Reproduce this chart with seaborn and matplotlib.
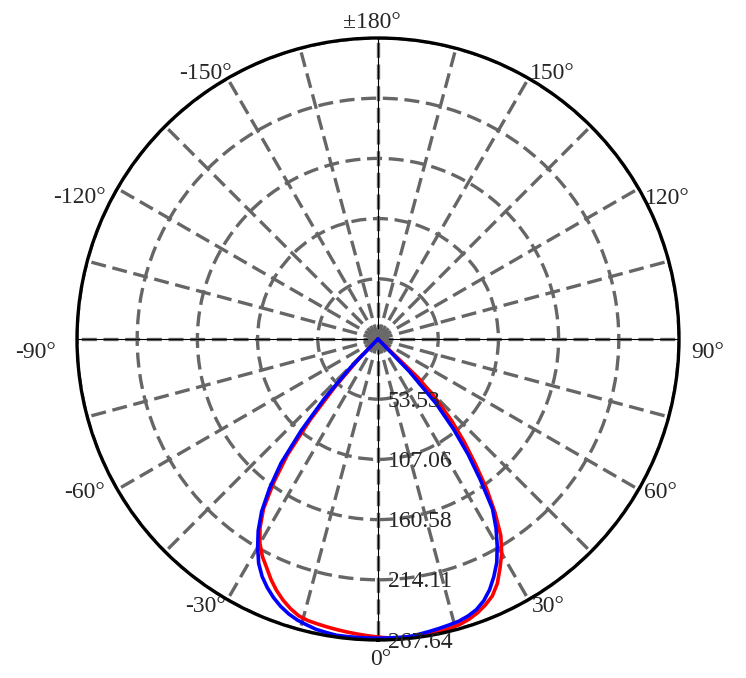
import numpy as np
import pandas as pd
import matplotlib
matplotlib.use("Agg")
import matplotlib.pyplot as plt
import seaborn as sns

# angles in degrees, 0 at bottom, positive toward the right
angles = [-47, -46, -44, -42, -40, -38, -36, -34, -32, -30, -28, -26, -24, -22, -20, -18, -16,
          -14, -12, -10, -8, -6, -4, -2, 0, 2, 4, 6, 8, 10, 12, 14, 16, 18, 20, 22, 24, 26,
          28, 30, 32, 34, 36, 38, 40, 42, 44, 46, 47]
red_vals = [0, 0, 25, 57, 94, 131, 158, 182, 198, 210, 219, 226, 234, 241, 247, 252, 256,
            258, 259, 260, 261, 262, 263, 264, 265, 266, 267, 267, 267, 266, 266, 265, 264,
            262, 259, 255, 250, 242, 231, 220, 206, 186, 164, 140, 119, 98, 75, 50, 0]
blue_vals = [0, 0, 35, 71, 106, 140, 164, 185, 201, 214, 226, 235, 242, 248, 253, 257, 260,
             262, 264, 265, 266, 266, 266, 266, 266, 266, 266, 266, 265, 264, 263, 262, 261,
             259, 256, 251, 244, 235, 225, 212, 198, 182, 155, 130, 104, 77, 40, 0, 0]

ring_vals = [53.53, 107.06, 160.58, 214.11, 267.64]
angle_labels = ["±180°", "150°", "120°", "90°", "60°", "30°", "0°",
                "-30°", "-60°", "-90°", "-120°", "-150°"]

sns.set_style("white")
plt.rcParams['font.family'] = 'serif'
plt.rcParams['font.serif'] = ['Liberation Serif', 'Times New Roman', 'DejaVu Serif']

df = pd.DataFrame({
    'theta': np.deg2rad(angles * 2),
    'r': red_vals + blue_vals,
    'series': ['red'] * len(angles) + ['blue'] * len(angles),
})

fig = plt.figure(figsize=(7.46, 6.78), dpi=100)
ax = fig.add_axes([77 / 746, 38 / 678, 602 / 746, 602 / 678], projection='polar')
ax.set_theta_zero_location('S')
ax.set_theta_direction(1)
rmax = 267.64
ax.set_ylim(0, rmax)

# grid
ax.set_thetagrids(np.arange(0, 360, 15), labels=[''] * 24)
ax.set_rgrids(ring_vals, labels=[''] * len(ring_vals))
ax.grid(True, color='#666666', linestyle=(0, (4.5, 2)), linewidth=2.4)
ax.spines['polar'].set_color('black')
ax.spines['polar'].set_linewidth(2.4)
ax.spines['polar'].set_zorder(4)
for a in [0, 90, 180, 270]:
    ax.axvline(np.deg2rad(a), color='black', lw=0.8, zorder=1)
ax.plot(0, 0, 'o', color='#6a6a6a', ms=14, zorder=2.5)

sns.lineplot(data=df, x='theta', y='r', hue='series', sort=False, estimator=None,
             palette={'red': '#ff0000', 'blue': '#0000ff'}, linewidth=2.6,
             legend=False, ax=ax, zorder=3)
ax.set_xlabel('')
ax.set_ylabel('')

# angle labels (polar position of each label centre, pixel radius)
lab_theta = [-178.9, 146.6, 115.9, 87.7, 61.5, 32.4, 0.5, -32.8, -62.3, -87.8, -115.3, -146.9]
lab_rpx = [317, 317.5, 322, 330, 321, 317, 321, 318, 331, 343, 330, 316.5]
for th, rp, lab in zip(lab_theta, lab_rpx, angle_labels):
    ax.text(np.deg2rad(th), rp / 301 * rmax, lab, ha='center', va='center',
            fontsize=17, clip_on=False)

for v in ring_vals:
    ax.annotate(f"{v:.2f}", xy=(0, v), xytext=(10, -2), textcoords='offset pixels',
                ha='left', va='center', fontsize=17, zorder=5)

fig.savefig('out.png', dpi=100)
